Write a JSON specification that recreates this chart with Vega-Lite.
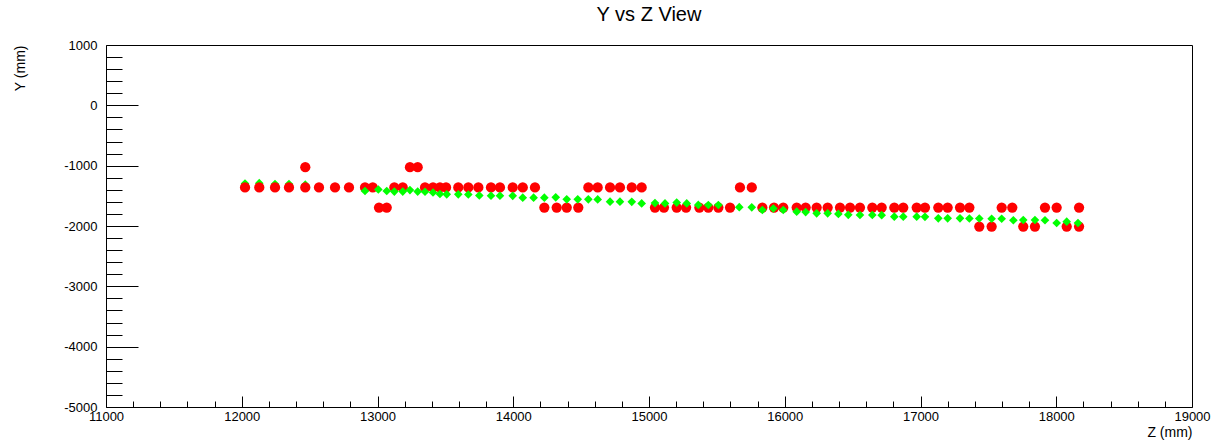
{
  "$schema": "https://vega.github.io/schema/vega-lite/v6.json",
  "width": 1086,
  "height": 362,
  "autosize": "none",
  "padding": {"left": 106, "top": 45, "right": 23, "bottom": 33},
  "background": "white",
  "title": {"text": "Y vs Z View", "fontSize": 20, "font": "Liberation Sans", "fontWeight": "normal", "color": "black", "offset": 14, "anchor": "middle"},
  "config": {"view": {"stroke": "black", "strokeWidth": 1}},
  "data": {"values": [
    {"z": 12024, "y": -1295, "s": "track"},
    {"z": 12129, "y": -1290, "s": "track"},
    {"z": 12245, "y": -1305, "s": "track"},
    {"z": 12348, "y": -1305, "s": "track"},
    {"z": 12468, "y": -1315, "s": "track"},
    {"z": 12024, "y": -1360, "s": "hit"},
    {"z": 12129, "y": -1360, "s": "hit"},
    {"z": 12245, "y": -1360, "s": "hit"},
    {"z": 12348, "y": -1360, "s": "hit"},
    {"z": 12468, "y": -1360, "s": "hit"},
    {"z": 12468, "y": -1025, "s": "hit"},
    {"z": 12569, "y": -1360, "s": "hit"},
    {"z": 12687, "y": -1360, "s": "hit"},
    {"z": 12790, "y": -1360, "s": "hit"},
    {"z": 12908, "y": -1360, "s": "hit"},
    {"z": 12965, "y": -1360, "s": "hit"},
    {"z": 13011, "y": -1695, "s": "hit"},
    {"z": 13068, "y": -1695, "s": "hit"},
    {"z": 13124, "y": -1360, "s": "hit"},
    {"z": 13186, "y": -1360, "s": "hit"},
    {"z": 13239, "y": -1025, "s": "hit"},
    {"z": 13296, "y": -1025, "s": "hit"},
    {"z": 13350, "y": -1360, "s": "hit"},
    {"z": 13409, "y": -1360, "s": "hit"},
    {"z": 13460, "y": -1360, "s": "hit"},
    {"z": 13505, "y": -1360, "s": "hit"},
    {"z": 13595, "y": -1360, "s": "hit"},
    {"z": 13669, "y": -1360, "s": "hit"},
    {"z": 13743, "y": -1360, "s": "hit"},
    {"z": 13836, "y": -1360, "s": "hit"},
    {"z": 13902, "y": -1360, "s": "hit"},
    {"z": 13996, "y": -1360, "s": "hit"},
    {"z": 14070, "y": -1360, "s": "hit"},
    {"z": 14160, "y": -1360, "s": "hit"},
    {"z": 14229, "y": -1695, "s": "hit"},
    {"z": 14320, "y": -1695, "s": "hit"},
    {"z": 14394, "y": -1695, "s": "hit"},
    {"z": 14479, "y": -1695, "s": "hit"},
    {"z": 14553, "y": -1360, "s": "hit"},
    {"z": 14622, "y": -1360, "s": "hit"},
    {"z": 14713, "y": -1360, "s": "hit"},
    {"z": 14786, "y": -1360, "s": "hit"},
    {"z": 14873, "y": -1360, "s": "hit"},
    {"z": 14946, "y": -1360, "s": "hit"},
    {"z": 15044, "y": -1695, "s": "hit"},
    {"z": 15110, "y": -1695, "s": "hit"},
    {"z": 15204, "y": -1695, "s": "hit"},
    {"z": 15273, "y": -1695, "s": "hit"},
    {"z": 15371, "y": -1695, "s": "hit"},
    {"z": 15437, "y": -1695, "s": "hit"},
    {"z": 15511, "y": -1695, "s": "hit"},
    {"z": 15597, "y": -1695, "s": "hit"},
    {"z": 15670, "y": -1360, "s": "hit"},
    {"z": 15757, "y": -1360, "s": "hit"},
    {"z": 15835, "y": -1695, "s": "hit"},
    {"z": 15921, "y": -1695, "s": "hit"},
    {"z": 15989, "y": -1695, "s": "hit"},
    {"z": 16088, "y": -1695, "s": "hit"},
    {"z": 16154, "y": -1695, "s": "hit"},
    {"z": 16235, "y": -1695, "s": "hit"},
    {"z": 16316, "y": -1695, "s": "hit"},
    {"z": 16407, "y": -1695, "s": "hit"},
    {"z": 16481, "y": -1695, "s": "hit"},
    {"z": 16554, "y": -1695, "s": "hit"},
    {"z": 16645, "y": -1695, "s": "hit"},
    {"z": 16714, "y": -1695, "s": "hit"},
    {"z": 16807, "y": -1695, "s": "hit"},
    {"z": 16873, "y": -1695, "s": "hit"},
    {"z": 16972, "y": -1695, "s": "hit"},
    {"z": 17033, "y": -1695, "s": "hit"},
    {"z": 17131, "y": -1695, "s": "hit"},
    {"z": 17200, "y": -1695, "s": "hit"},
    {"z": 17291, "y": -1695, "s": "hit"},
    {"z": 17360, "y": -1695, "s": "hit"},
    {"z": 17433, "y": -2010, "s": "hit"},
    {"z": 17524, "y": -2010, "s": "hit"},
    {"z": 17598, "y": -1695, "s": "hit"},
    {"z": 17676, "y": -1695, "s": "hit"},
    {"z": 17757, "y": -2010, "s": "hit"},
    {"z": 17843, "y": -2010, "s": "hit"},
    {"z": 17917, "y": -1695, "s": "hit"},
    {"z": 18003, "y": -1695, "s": "hit"},
    {"z": 18077, "y": -2010, "s": "hit"},
    {"z": 18168, "y": -2010, "s": "hit"},
    {"z": 18168, "y": -1695, "s": "hit"},
    {"z": 12908, "y": -1420, "s": "track"},
    {"z": 13006, "y": -1395, "s": "track"},
    {"z": 13068, "y": -1420, "s": "track"},
    {"z": 13124, "y": -1430, "s": "track"},
    {"z": 13186, "y": -1430, "s": "track"},
    {"z": 13239, "y": -1405, "s": "track"},
    {"z": 13296, "y": -1430, "s": "track"},
    {"z": 13350, "y": -1432, "s": "track"},
    {"z": 13409, "y": -1445, "s": "track"},
    {"z": 13460, "y": -1470, "s": "track"},
    {"z": 13510, "y": -1475, "s": "track"},
    {"z": 13595, "y": -1475, "s": "track"},
    {"z": 13669, "y": -1478, "s": "track"},
    {"z": 13750, "y": -1495, "s": "track"},
    {"z": 13836, "y": -1498, "s": "track"},
    {"z": 13902, "y": -1498, "s": "track"},
    {"z": 13996, "y": -1500, "s": "track"},
    {"z": 14070, "y": -1530, "s": "track"},
    {"z": 14150, "y": -1531, "s": "track"},
    {"z": 14229, "y": -1531, "s": "track"},
    {"z": 14313, "y": -1525, "s": "track"},
    {"z": 14394, "y": -1558, "s": "track"},
    {"z": 14475, "y": -1558, "s": "track"},
    {"z": 14553, "y": -1558, "s": "track"},
    {"z": 14622, "y": -1560, "s": "track"},
    {"z": 14713, "y": -1597, "s": "track"},
    {"z": 14786, "y": -1597, "s": "track"},
    {"z": 14873, "y": -1600, "s": "track"},
    {"z": 14946, "y": -1625, "s": "track"},
    {"z": 15044, "y": -1620, "s": "track"},
    {"z": 15118, "y": -1625, "s": "track"},
    {"z": 15204, "y": -1612, "s": "track"},
    {"z": 15278, "y": -1625, "s": "track"},
    {"z": 15363, "y": -1650, "s": "track"},
    {"z": 15437, "y": -1652, "s": "track"},
    {"z": 15511, "y": -1652, "s": "track"},
    {"z": 15665, "y": -1688, "s": "track"},
    {"z": 15757, "y": -1690, "s": "track"},
    {"z": 15835, "y": -1735, "s": "track"},
    {"z": 15916, "y": -1710, "s": "track"},
    {"z": 15989, "y": -1735, "s": "track"},
    {"z": 16088, "y": -1763, "s": "track"},
    {"z": 16154, "y": -1770, "s": "track"},
    {"z": 16235, "y": -1790, "s": "track"},
    {"z": 16316, "y": -1790, "s": "track"},
    {"z": 16395, "y": -1800, "s": "track"},
    {"z": 16468, "y": -1815, "s": "track"},
    {"z": 16554, "y": -1818, "s": "track"},
    {"z": 16645, "y": -1818, "s": "track"},
    {"z": 16714, "y": -1820, "s": "track"},
    {"z": 16807, "y": -1845, "s": "track"},
    {"z": 16873, "y": -1845, "s": "track"},
    {"z": 16972, "y": -1845, "s": "track"},
    {"z": 17033, "y": -1848, "s": "track"},
    {"z": 17131, "y": -1873, "s": "track"},
    {"z": 17200, "y": -1873, "s": "track"},
    {"z": 17291, "y": -1873, "s": "track"},
    {"z": 17360, "y": -1875, "s": "track"},
    {"z": 17433, "y": -1875, "s": "track"},
    {"z": 17524, "y": -1880, "s": "track"},
    {"z": 17598, "y": -1880, "s": "track"},
    {"z": 17684, "y": -1905, "s": "track"},
    {"z": 17757, "y": -1900, "s": "track"},
    {"z": 17843, "y": -1900, "s": "track"},
    {"z": 17917, "y": -1905, "s": "track"},
    {"z": 18003, "y": -1950, "s": "track"},
    {"z": 18077, "y": -1928, "s": "track"},
    {"z": 18160, "y": -1950, "s": "track"}
  ]},
  "layer": [
    {
      "mark": {"type": "point", "filled": true, "opacity": 1, "strokeWidth": 0},
      "encoding": {
        "x": {
          "field": "z", "type": "quantitative",
          "scale": {"domain": [11000, 19000], "nice": false, "zero": false},
          "axis": {
            "orient": "bottom",
            "title": "Z (mm)", "titleFont": "Liberation Sans", "titleFontSize": 14, "titleFontWeight": "normal", "titleColor": "black",
            "titleX": 1086, "titleY": 25, "titleAlign": "right", "titleBaseline": "middle", "titleAnchor": "end",
            "values": [11000, 12000, 13000, 14000, 15000, 16000, 17000, 18000, 19000],
            "labelExpr": "'' + datum.value",
            "labelFont": "Liberation Sans", "labelFontSize": 13, "labelColor": "black", "labelPadding": 14,
            "labelFlush": false, "labelOverlap": false, "labelBound": false,
            "domain": false, "grid": false, "ticks": true, "tickSize": -11, "tickColor": "black", "tickWidth": 1
          }
        },
        "y": {
          "field": "y", "type": "quantitative",
          "scale": {"domain": [-5000, 1000], "nice": false, "zero": false},
          "axis": {
            "orient": "left",
            "title": "Y (mm)", "titleFont": "Liberation Sans", "titleFontSize": 14, "titleFontWeight": "normal", "titleColor": "black",
            "titleX": -86, "titleY": 0, "titleAngle": 270, "titleAlign": "right", "titleBaseline": "middle", "titleAnchor": "end",
            "values": [-5000, -4000, -3000, -2000, -1000, 0, 1000],
            "labelExpr": "'' + datum.value",
            "labelFont": "Liberation Sans", "labelFontSize": 13, "labelColor": "black", "labelPadding": 41,
            "labelFlush": false, "labelOverlap": false, "labelBound": false,
            "domain": false, "grid": false, "ticks": true, "tickSize": -32, "tickColor": "black", "tickWidth": 1
          }
        },
        "color": {"field": "s", "type": "nominal", "scale": {"domain": ["track", "hit"], "range": ["#00ff00", "#ff0000"]}, "legend": null},
        "shape": {"field": "s", "type": "nominal", "scale": {"domain": ["track", "hit"], "range": ["diamond", "circle"]}, "legend": null},
        "size": {"field": "s", "type": "nominal", "scale": {"domain": ["track", "hit"], "range": [75, 105]}, "legend": null}
      }
    },
    {
      "mark": {"type": "point", "opacity": 0},
      "encoding": {
        "x": {
          "field": "z", "type": "quantitative",
          "scale": {"domain": [11000, 19000], "nice": false, "zero": false},
          "axis": {
            "orient": "bottom", "title": null, "labels": false,
            "values": [11200,11400,11600,11800,12200,12400,12600,12800,13200,13400,13600,13800,14200,14400,14600,14800,15200,15400,15600,15800,16200,16400,16600,16800,17200,17400,17600,17800,18200,18400,18600,18800],
            "domain": false, "grid": false, "ticks": true, "tickSize": -6, "tickColor": "black", "tickWidth": 1
          }
        },
        "y": {
          "field": "y", "type": "quantitative",
          "scale": {"domain": [-5000, 1000], "nice": false, "zero": false},
          "axis": {
            "orient": "left", "title": null, "labels": false,
            "values": [-4800,-4600,-4400,-4200,-3800,-3600,-3400,-3200,-2800,-2600,-2400,-2200,-1800,-1600,-1400,-1200,-800,-600,-400,-200,200,400,600,800],
            "domain": false, "grid": false, "ticks": true, "tickSize": -16, "tickColor": "black", "tickWidth": 1
          }
        }
      }
    }
  ],
  "resolve": {"axis": {"x": "independent", "y": "independent"}}
}
